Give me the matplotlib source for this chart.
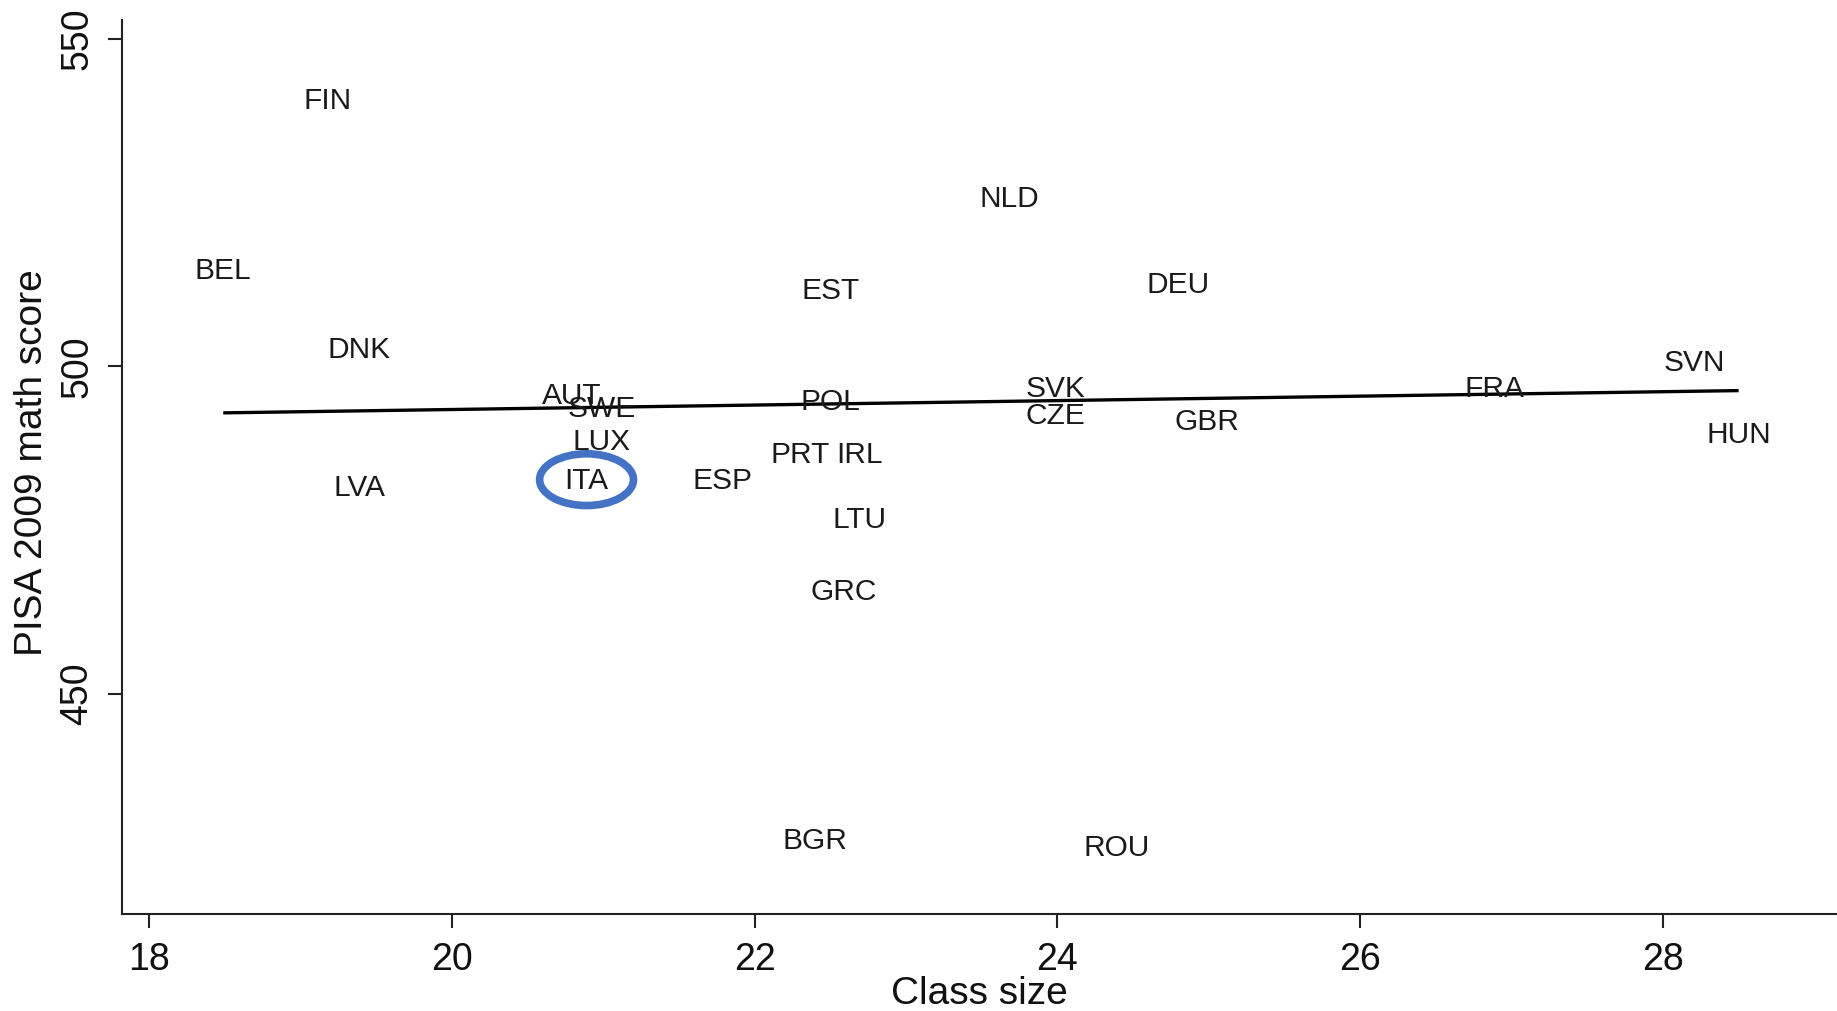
import matplotlib
matplotlib.use("Agg")
import matplotlib.pyplot as plt
from matplotlib.patches import Ellipse
from matplotlib.transforms import offset_copy

plt.rcParams['font.family'] = ['Liberation Sans', 'DejaVu Sans']

countries = ["FIN", "BEL", "DNK", "LVA", "AUT", "SWE", "LUX", "ITA", "ESP", "PRT",
             "IRL", "POL", "EST", "LTU", "GRC", "BGR", "NLD", "SVK", "CZE", "DEU",
             "ROU", "GBR", "FRA", "SVN", "HUN"]
class_size = [19.18, 18.49, 19.39, 19.39, 20.79, 20.99, 20.99, 20.89, 21.79, 22.30,
              22.69, 22.50, 22.50, 22.69, 22.59, 22.40, 23.68, 23.99, 23.99, 24.80,
              24.39, 24.99, 26.89, 28.21, 28.50]
math_score = [541, 515, 503, 482, 496, 494, 489, 483, 483, 487,
              487, 495, 512, 477, 466, 428, 526, 497, 493, 513,
              427, 492, 497, 501, 490]

fit_x = [18.49, 28.50]
fit_y = [492.9, 496.3]

x_ticks = [18, 20, 22, 24, 26, 28]
y_ticks = [450, 500, 550]

highlight = "ITA"

W, H = 1837, 1011
fig = plt.figure(figsize=(W / 100, H / 100), dpi=100)
ax = fig.add_axes([121.8 / W, 1 - 913.9 / H, 1 - 121.8 / W, (913.9 - 19.9) / H])

ax.plot(fit_x, fit_y, color="black", lw=2.4, solid_capstyle="butt")

lab_tr = offset_copy(ax.transData, fig=fig, x=0, y=-2.4, units="points")
for c, x, y in zip(countries, class_size, math_score):
    ax.text(x, y, c, ha="center", va="center", fontsize=21.5, color="#1a1a1a",
            transform=lab_tr)

ix = countries.index(highlight)
ax.add_patch(Ellipse((class_size[ix], math_score[ix] - 0.3), 0.62, 7.9,
                     fill=False, edgecolor="#4472C4", lw=5.5))

ax.set_xlim(17.82, 29.15)
ax.set_ylim(416.4, 552.9)
ax.set_xticks(x_ticks)
ax.set_yticks(y_ticks)
ax.spines["top"].set_visible(False)
ax.spines["right"].set_visible(False)
for s in ("left", "bottom"):
    ax.spines[s].set_linewidth(1.5)
    ax.spines[s].set_color("#222222")
ax.tick_params(axis="both", direction="out", length=10, width=1.5, color="#222222",
               labelsize=27, labelcolor="#111111")
ax.tick_params(axis="x", pad=10)
ax.tick_params(axis="y", pad=9)
for lab in ax.get_yticklabels():
    lab.set_rotation(90)
    lab.set_va("center")

fig.text(979.5 / W, 1 - 994.5 / H, "Class size", ha="center", va="center",
         fontsize=28, color="#111111")
fig.text(31.6 / W, 1 - 463 / H, "PISA 2009 math score", ha="center", va="center",
         rotation=90, fontsize=28, color="#111111")

fig.savefig("out.png", dpi=100)
